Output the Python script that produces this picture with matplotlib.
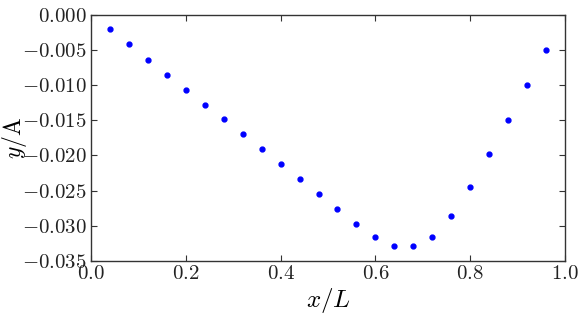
import matplotlib
matplotlib.use("Agg")
import matplotlib.pyplot as plt

x_vals = [0.04, 0.08, 0.12, 0.16, 0.20, 0.24, 0.28, 0.32, 0.36, 0.40, 0.44, 0.48,
          0.52, 0.56, 0.60, 0.64, 0.68, 0.72, 0.76, 0.80, 0.84, 0.88, 0.92, 0.96]
y_vals = [-0.0021, -0.00422, -0.0064, -0.00853, -0.01066, -0.01278, -0.0149, -0.01703,
          -0.01916, -0.02128, -0.0234, -0.02553, -0.02766, -0.02968, -0.03153, -0.0328,
          -0.03294, -0.03153, -0.02855, -0.02449, -0.01986, -0.01495, -0.00995, -0.00499]
x_ticks = [0.0, 0.2, 0.4, 0.6, 0.8, 1.0]
y_ticks = [-0.035, -0.030, -0.025, -0.020, -0.015, -0.010, -0.005, 0.000]

plt.rcParams['mathtext.fontset'] = 'cm'
plt.rcParams['font.family'] = 'serif'
plt.rcParams['font.serif'] = ['cmr10', 'DejaVu Serif']
plt.rcParams['axes.formatter.use_mathtext'] = True
plt.rcParams['axes.unicode_minus'] = True

fig = plt.figure(figsize=(5.81, 3.14), dpi=100)
ax = fig.add_axes([91/581, 1-261/314, (565-91)/581, (261-14.5)/314])
ax.plot(x_vals, y_vals, 'o', color='#0000ff', mec='#0000ff', ms=3.5, ls='none')
ax.set_xlim(0.0, 1.0)
ax.set_ylim(-0.035, 0.0)
ax.set_xticks(x_ticks)
ax.set_yticks(y_ticks)
ax.set_xticklabels(['$%.1f$' % v for v in x_ticks])
ax.set_yticklabels(['$%.3f$' % v for v in y_ticks])
ax.tick_params(direction='in', top=True, right=True, length=4, width=0.8,
               labelsize=15, pad=3, colors='#333333', labelcolor='#222222')
for s in ax.spines.values():
    s.set_color('#333333')
    s.set_linewidth(1.0)
ax.set_xlabel('$x/L$', fontsize=18, labelpad=2)
ax.set_ylabel(r'$y/\mathrm{A}$', fontsize=17)
ax.yaxis.set_label_coords(-0.131, 0.5)
fig.savefig('out.png', dpi=100, facecolor='white')
